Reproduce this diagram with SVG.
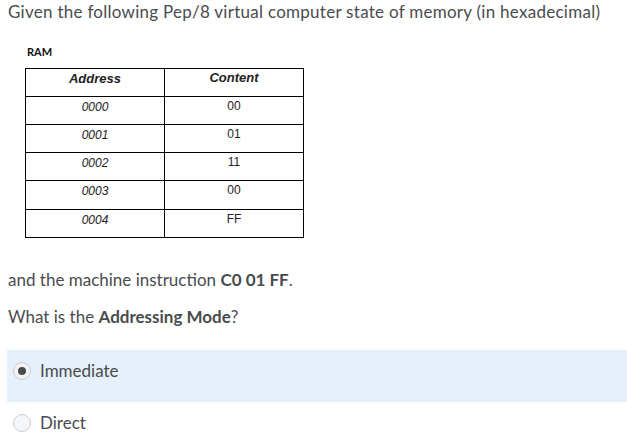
<svg xmlns="http://www.w3.org/2000/svg" width="627" height="434" viewBox="0 0 627 434">
<style>
.q{font-family:Lato,"Liberation Sans",sans-serif;font-size:17px;fill:#494c4e}
.t{font-family:"Liberation Sans",sans-serif;font-size:12px;fill:#222;text-anchor:middle}
.a{font-style:italic}
.ln{stroke:#000;stroke-width:1;fill:none}
</style>
<rect width="627" height="434" fill="#fff"/>
<text class="q" x="8" y="18" textLength="592">Given the following Pep/8 virtual computer state of memory (in hexadecimal)</text>
<text x="27" y="56" style="font-family:Lato,'Liberation Sans',sans-serif;font-size:11px;font-weight:bold;fill:#111">RAM</text>
<g id="table">
<rect class="ln" x="25.5" y="68.5" width="278" height="169"/>
<line class="ln" x1="164.5" y1="68" x2="164.5" y2="237"/>
<line class="ln" x1="25" y1="96.5" x2="303" y2="96.5"/>
<line class="ln" x1="25" y1="124.5" x2="303" y2="124.5"/>
<line class="ln" x1="25" y1="152.5" x2="303" y2="152.5"/>
<line class="ln" x1="25" y1="180.5" x2="303" y2="180.5"/>
<line class="ln" x1="25" y1="209.5" x2="303" y2="209.5"/>
<text class="t a" x="95" y="83" style="font-weight:bold;font-size:13px">Address</text>
<text class="t a" x="234" y="82" style="font-weight:bold;font-size:13px">Content</text>
<text class="t a" x="95" y="111">0000</text><text class="t" x="234" y="110">00</text>
<text class="t a" x="95" y="139">0001</text><text class="t" x="234" y="138">01</text>
<text class="t a" x="95" y="167">0002</text><text class="t" x="234" y="166">11</text>
<text class="t a" x="95" y="195">0003</text><text class="t" x="234" y="194">00</text>
<text class="t a" x="95" y="224">0004</text><text class="t" x="234" y="223">FF</text>
</g>
<text class="q" x="8" y="286">and the machine instruction <tspan font-weight="bold">C0 01 FF</tspan>.</text>
<text class="q" x="8" y="323">What is the <tspan font-weight="bold">Addressing Mode</tspan>?</text>
<g id="opt1">
<rect x="7" y="350" width="620" height="52" fill="#e6f0fb"/>
<circle cx="22" cy="371" r="8.5" fill="#f2f2f2" stroke="#c8ccd0"/>
<circle cx="22" cy="371" r="4" fill="#494c4e"/>
<text class="q" x="40" y="377">Immediate</text>
</g>
<g id="opt2">
<circle cx="22" cy="423" r="8.5" fill="#f5f6f8" stroke="#c8ccd0"/>
<text class="q" x="40" y="429">Direct</text>
</g>
</svg>
